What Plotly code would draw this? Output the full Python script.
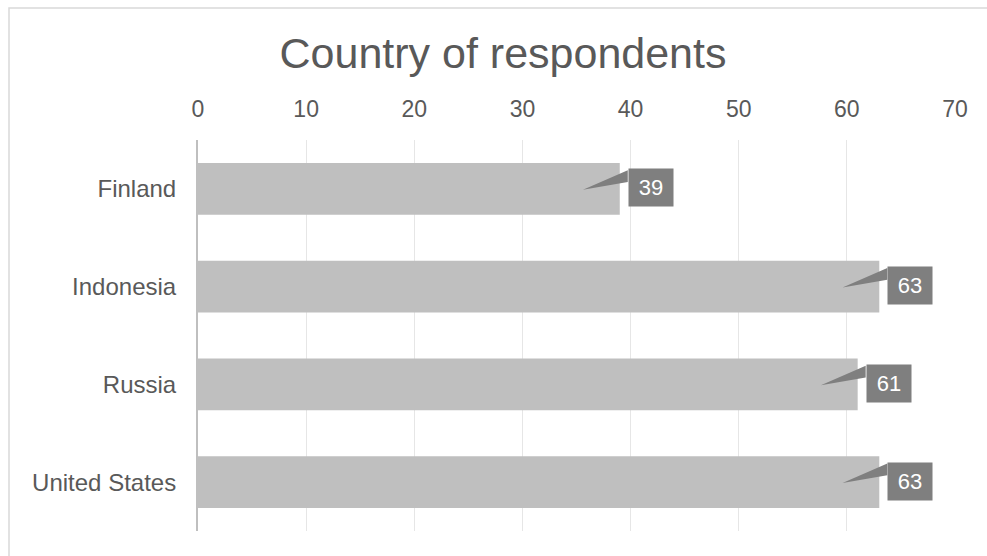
import plotly.graph_objects as go

# Survey respondents by country
countries = ["Finland", "Indonesia", "Russia", "United States"]
respondents = [39, 63, 61, 63]
x_ticks = [0, 10, 20, 30, 40, 50, 60, 70]

W, H = 987, 556
ML, MR, MT, MB = 198, 32, 140, 25
PW, PH = W - ML - MR, H - MT - MB

FONT = "Liberation Sans, Arial, sans-serif"
TEXT_GREY = "#595959"
BAR_GREY = "#bfbfbf"
LABEL_GREY = "#7f7f7f"

pos = list(range(len(countries)))

fig = go.Figure()

fig.add_trace(go.Bar(
    x=respondents,
    y=pos,
    orientation="h",
    width=0.53,
    marker=dict(color=BAR_GREY, line=dict(width=0)),
    hoverinfo="skip",
    showlegend=False,
))

# callout pointers from each value label back into its bar
tip_off = 3.4
base_off = 8 * 70 / PW
wx, wy = [], []
for i, v in zip(pos, respondents):
    wx += [v - tip_off, v + base_off, v + base_off, v - tip_off, None]
    wy += [i + 0.01, i - 0.19, i - 0.07, i + 0.01, None]
fig.add_trace(go.Scatter(
    x=wx, y=wy,
    mode="lines",
    fill="toself",
    fillcolor=LABEL_GREY,
    line=dict(width=0, color=LABEL_GREY),
    hoverinfo="skip",
    showlegend=False,
))

for i, v in zip(pos, respondents):
    fig.add_annotation(
        x=v, y=i,
        xref="x", yref="y",
        text=str(v),
        showarrow=False,
        xanchor="left", yanchor="middle",
        xshift=8, yshift=1,
        width=42, height=35,
        bgcolor=LABEL_GREY,
        font=dict(family=FONT, size=22, color="white"),
    )

# chart frame
fig.add_shape(
    type="rect",
    xref="paper", yref="paper",
    x0=(9 - ML) / PW, x1=(W + 10 - ML) / PW,
    y0=-(MB + 10) / PH, y1=(PH + MT - 8) / PH,
    line=dict(color="#d9d9d9", width=1.5),
    fillcolor="rgba(0,0,0,0)",
    layer="below",
)

fig.update_layout(
    width=W, height=H,
    margin=dict(l=ML, r=MR, t=MT, b=MB, pad=0),
    paper_bgcolor="white",
    plot_bgcolor="white",
    font=dict(family=FONT, color=TEXT_GREY),
    title=dict(
        text="Country of respondents",
        x=503 / W, xref="container", xanchor="center",
        y=1 - 53 / H, yref="container", yanchor="middle",
        font=dict(family=FONT, size=43, color=TEXT_GREY),
    ),
    xaxis=dict(
        side="top",
        range=[0, 70],
        tickvals=x_ticks,
        ticktext=[str(t) for t in x_ticks],
        showgrid=True,
        gridcolor="#e6e6e6",
        gridwidth=1,
        zeroline=False,
        showline=False,
        ticks="",
        ticklabelstandoff=17,
        tickfont=dict(family=FONT, size=23, color=TEXT_GREY),
    ),
    yaxis=dict(
        range=[3.5, -0.5],
        tickvals=pos,
        ticktext=countries,
        showgrid=False,
        zeroline=False,
        showline=True,
        linecolor=BAR_GREY,
        linewidth=2,
        ticks="",
        ticklabelstandoff=15,
        tickfont=dict(family=FONT, size=24, color=TEXT_GREY),
    ),
)

fig.write_html("out.html")
